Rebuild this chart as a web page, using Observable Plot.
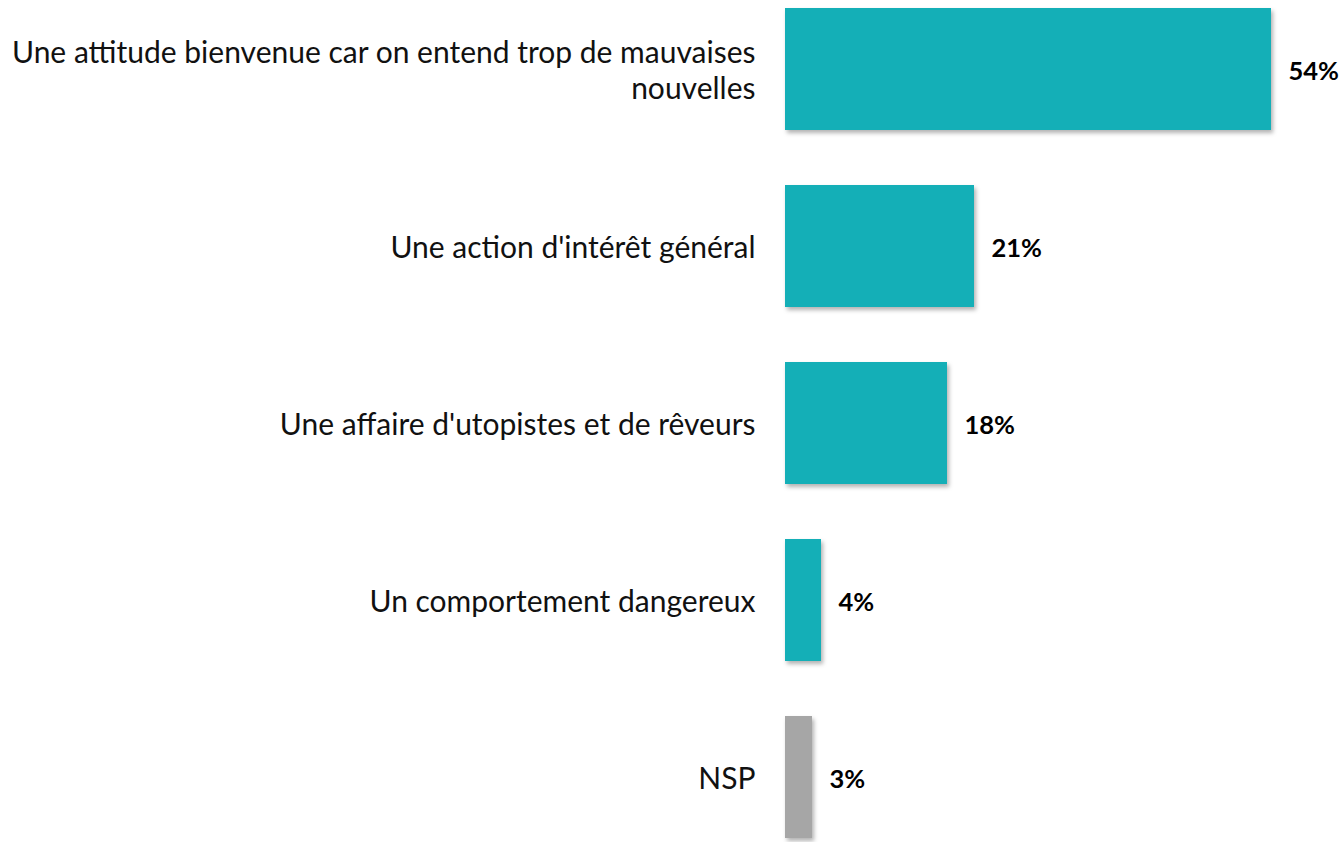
<!DOCTYPE html>
<html>
<head>
<meta charset="utf-8">
<script src="https://cdn.jsdelivr.net/npm/d3@7"></script>
<script src="https://cdn.jsdelivr.net/npm/@observablehq/plot@0.6"></script>
<style>
  html, body { margin: 0; padding: 0; background: #fff; }
  #chart svg { display: block; }
</style>
</head>
<body>
<div id="chart"></div>
<script>
const categories = [
  "Une attitude bienvenue car on entend trop de mauvaises\nnouvelles",
  "Une action d'intérêt général",
  "Une affaire d'utopistes et de rêveurs",
  "Un comportement dangereux",
  "NSP"
];
const values = [54, 21, 18, 4, 3];
const groups = ["main", "main", "main", "main", "nsp"];
const valueLabels = ["54%", "21%", "18%", "4%", "3%"];

const data = categories.map((c, i) => ({
  category: c, value: values[i], group: groups[i], label: valueLabels[i]
}));

const fontFamily = "Lato, 'Open Sans', sans-serif";

const chart = Plot.plot({
  width: 1344,
  height: 842,
  marginLeft: 785,
  marginRight: 73,
  marginTop: 7,
  marginBottom: 3,
  style: { fontFamily, background: "#fff" },
  x: { domain: [0, 54], axis: null },
  y: { domain: categories, axis: null, padding: 0.31, paddingOuter: 0 },
  color: { domain: ["main", "nsp"], range: ["#14afb7", "#a6a6a6"] },
  marks: [
    Plot.barX(data, { x: "value", y: "category", fill: "group" }),
    Plot.text(data, {
      x: 0, y: "category", text: "category",
      textAnchor: "end", dx: -30, dy: 0, fontSize: 30, lineHeight: 1.2,
      fill: "#111"
    }),
    Plot.text(data, {
      x: "value", y: "category", text: "label",
      textAnchor: "start", dx: 17, dy: 2, fontSize: 25.5, fontWeight: "bold",
      fill: "#000"
    })
  ]
});

d3.select(chart).selectAll("g[aria-label='bar']")
  .style("filter", "drop-shadow(2px 3px 2px rgba(0,0,0,0.3))");

document.getElementById("chart").appendChild(chart);
</script>
</body>
</html>
